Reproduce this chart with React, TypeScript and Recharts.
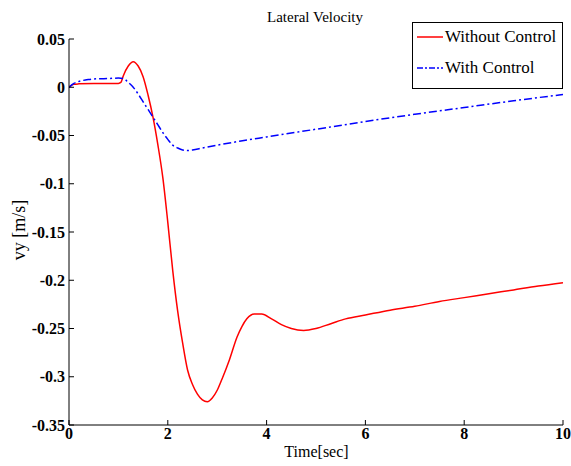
import React from "react";
import { LineChart, Line, XAxis, YAxis } from "recharts";

// Time axis (sec) and lateral velocity (m/s)
const timeWithout = [
  0, 0.05, 0.1, 0.2, 0.5, 1.0, 1.05, 1.1, 1.2, 1.3, 1.4, 1.5, 1.6, 1.7, 1.8, 1.9, 2.0, 2.1, 2.2,
  2.3, 2.4, 2.5, 2.6, 2.7, 2.8, 2.9, 3.0, 3.1, 3.25, 3.4, 3.5, 3.6, 3.75, 3.9, 4.1, 4.3, 4.5,
  4.75, 5.0, 5.3, 5.6, 6.0, 6.5, 7.0, 7.5, 8.0, 8.5, 9.0, 9.5, 10,
];
const vyWithout = [
  0, 0.002, 0.003, 0.0035, 0.004, 0.004, 0.005, 0.012, 0.022, 0.0265, 0.022, 0.011, -0.008,
  -0.031, -0.06, -0.094, -0.14, -0.19, -0.232, -0.265, -0.293, -0.308, -0.318, -0.324, -0.326,
  -0.322, -0.314, -0.302, -0.282, -0.259, -0.248, -0.24, -0.235, -0.235, -0.24, -0.246, -0.25,
  -0.252, -0.25, -0.245, -0.24, -0.236, -0.231, -0.227, -0.222, -0.218, -0.214, -0.21, -0.206,
  -0.2025,
];

const timeWith = [
  0, 0.1, 0.2, 0.4, 0.6, 0.8, 1.0, 1.1, 1.2, 1.3, 1.4, 1.5, 1.6, 1.7, 1.8, 1.9, 2.0, 2.1, 2.2,
  2.3, 2.4, 2.5, 2.7, 3.0, 3.45, 4, 5, 6, 7, 8, 9, 10,
];
const vyWith = [
  0, 0.004, 0.006, 0.008, 0.0088, 0.009, 0.0095, 0.009, 0.005, 0.0, -0.007, -0.015, -0.023,
  -0.031, -0.039, -0.047, -0.054, -0.06, -0.063, -0.065, -0.0655, -0.065, -0.063, -0.06, -0.056,
  -0.0515, -0.0435, -0.0355, -0.028, -0.021, -0.014, -0.0075,
];

const xTicks = [0, 2, 4, 6, 8, 10];
const yTicks = [0.05, 0, -0.05, -0.1, -0.15, -0.2, -0.25, -0.3, -0.35];

const withoutData = timeWithout.map((t, i) => ({ t, vy: vyWithout[i] }));
const withData = timeWith.map((t, i) => ({ t, vy: vyWith[i] }));

const font = "'Liberation Serif', 'Times New Roman', serif";
const tickStyle = { fontFamily: font, fontSize: 16, fontWeight: 700, fill: "#000" };

export default function App() {
  return (
    <div
      style={{
        position: "absolute",
        left: 0,
        top: 0,
        width: 571,
        height: 466,
        background: "#fff",
        fontFamily: font,
      }}
    >
      <LineChart
        width={571}
        height={466}
        margin={{ top: 39, right: 8, left: 9, bottom: 11 }}
        style={{ fontFamily: font }}
      >
        <XAxis
          xAxisId="b"
          dataKey="t"
          type="number"
          domain={[0, 10]}
          ticks={xTicks}
          allowDataOverflow
          height={30}
          tickSize={-5}
          tickMargin={8}
          stroke="#000"
          tick={tickStyle}
        />
        <XAxis
          xAxisId="top"
          orientation="top"
          type="number"
          domain={[0, 10]}
          ticks={xTicks}
          allowDataOverflow
          height={0}
          tickSize={-5}
          tick={false}
          stroke="#000"
        />
        <YAxis
          yAxisId="l"
          type="number"
          domain={[-0.35, 0.05]}
          ticks={yTicks}
          allowDataOverflow
          width={60}
          tickSize={-5}
          tickMargin={9}
          stroke="#000"
          tick={tickStyle}
          tickFormatter={(v: number) => String(Math.round(v * 100) / 100)}
        />
        <YAxis
          yAxisId="r"
          orientation="right"
          type="number"
          domain={[-0.35, 0.05]}
          ticks={yTicks}
          allowDataOverflow
          width={0}
          tickSize={-5}
          tick={false}
          stroke="#000"
        />
        <Line
          xAxisId="b"
          yAxisId="l"
          data={withoutData}
          dataKey="vy"
          type="monotone"
          stroke="#ff0000"
          strokeWidth={1.5}
          dot={false}
          isAnimationActive={false}
        />
        <Line
          xAxisId="b"
          yAxisId="l"
          data={withData}
          dataKey="vy"
          type="monotone"
          stroke="#0000ff"
          strokeWidth={1.5}
          strokeDasharray="8 3 2 3"
          dot={false}
          isAnimationActive={false}
        />
      </LineChart>

      <div style={{ position: "absolute", left: 0, width: 630, top: 9, textAlign: "center", fontFamily: font, fontSize: 15 }}>
        Lateral Velocity
      </div>
      <div style={{ position: "absolute", left: 0, width: 633, top: 443, textAlign: "center", fontFamily: font, fontSize: 16 }}>
        Time[sec]
      </div>
      <div
        style={{
          position: "absolute",
          left: 19,
          top: 230,
          transform: "translate(-50%, -50%) rotate(-90deg)",
          fontFamily: font,
          fontSize: 18,
          whiteSpace: "nowrap",
        }}
      >
        vy [m/s]
      </div>

      <div
        style={{
          position: "absolute",
          left: 412,
          top: 22,
          width: 149,
          height: 65,
          border: "1px solid #000",
          background: "#fff",
          fontFamily: font,
          fontSize: 17,
        }}
      >
        <div style={{ position: "absolute", left: 4, top: 4, display: "flex", alignItems: "center", whiteSpace: "nowrap" }}>
          <svg width={26} height={4} style={{ marginRight: 2 }}>
            <line x1={0} y1={2} x2={26} y2={2} stroke="#ff0000" strokeWidth={1.5} />
          </svg>
          Without Control
        </div>
        <div style={{ position: "absolute", left: 4, top: 35, display: "flex", alignItems: "center", whiteSpace: "nowrap" }}>
          <svg width={26} height={4} style={{ marginRight: 2 }}>
            <line x1={0} y1={2} x2={26} y2={2} stroke="#0000ff" strokeWidth={1.5} strokeDasharray="6 2 2 2" />
          </svg>
          With Control
        </div>
      </div>
    </div>
  );
}
